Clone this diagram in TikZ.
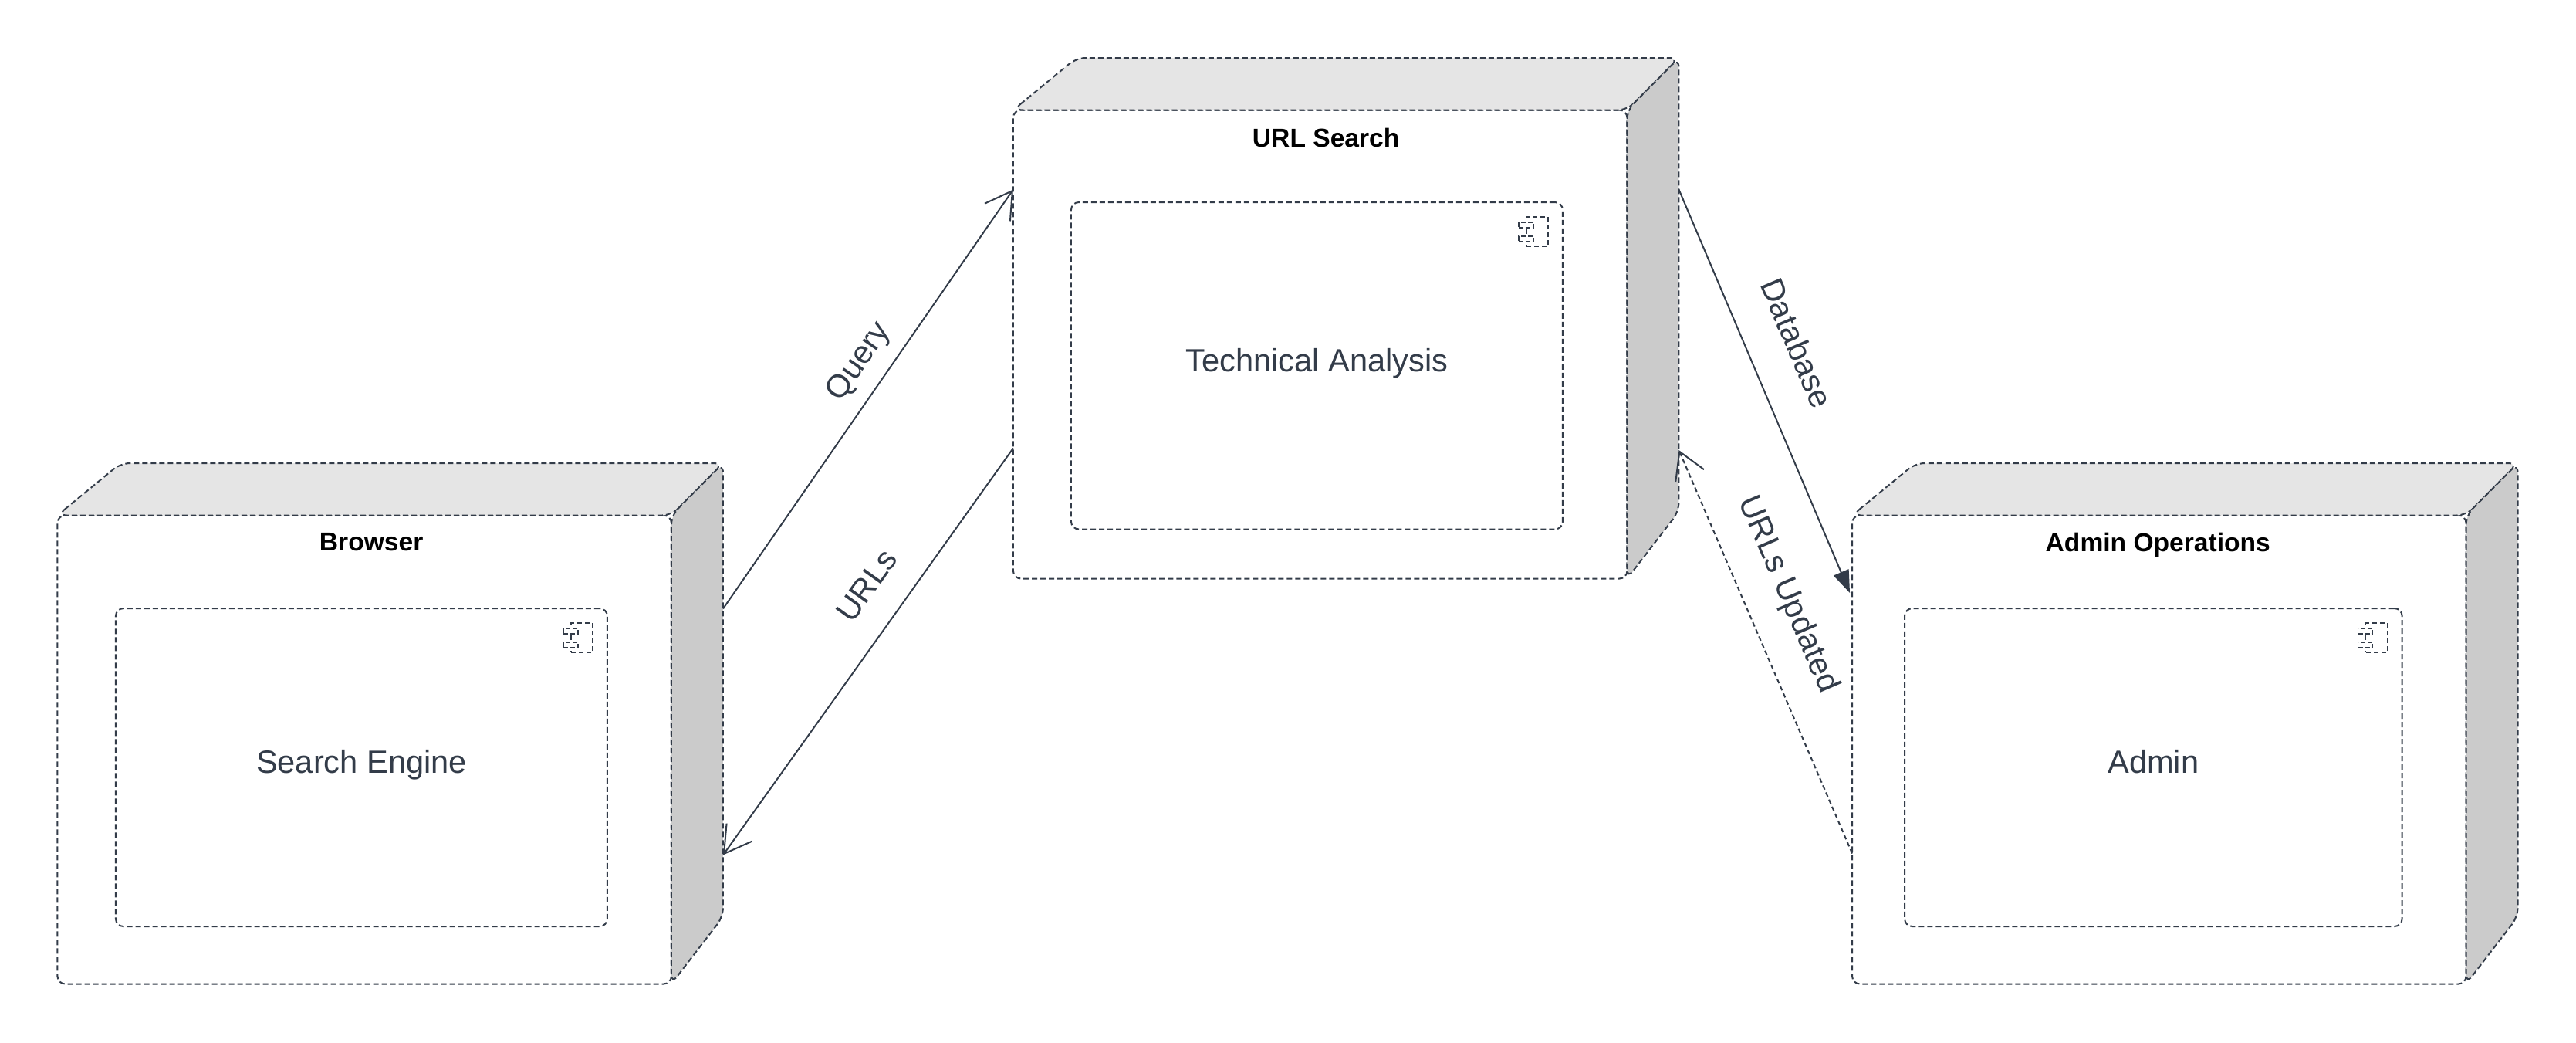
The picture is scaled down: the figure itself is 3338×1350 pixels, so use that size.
\documentclass[tikz,border=0pt]{standalone}
\usepackage{xcolor}
\usepackage{fontspec}
\setmainfont{Liberation Sans}
\usetikzlibrary{arrows.meta,positioning}
\definecolor{inkc}{HTML}{333C49}
\definecolor{topc}{HTML}{E5E5E5}
\definecolor{sidec}{HTML}{CBCBCB}

\begin{document}
\begin{tikzpicture}[
  x=1pt, y=-1pt,
  edge/.style={draw=inkc, line width=2pt, dash pattern=on 7pt off 4pt},
  devicebox/.style={edge, rounded corners=10pt, fill=white, inner sep=0pt, outer sep=0pt, minimum width=795.5pt, minimum height=607pt},
  topface/.style={edge, rounded corners=12pt, fill=topc},
  sideface/.style={edge, rounded corners=12pt, fill=sidec},
  compbox/.style={edge, rounded corners=10pt, inner sep=0pt, outer sep=0pt, align=center, text=inkc, font=\fontsize{41.6}{50}\selectfont, text height=32pt, text depth=17pt},
  titletext/.style={inner sep=0pt, font=\fontsize{33.6}{40}\selectfont\bfseries, text=black},
  iconmain/.style={draw=inkc, line width=1.6pt, dash pattern=on 6pt off 4pt, inner sep=0pt, outer sep=0pt, minimum width=28pt, minimum height=38pt},
  iconpin/.style={draw=inkc, fill=white, line width=1.6pt, dash pattern=on 6pt off 3pt, inner sep=0pt, outer sep=0pt, minimum width=19pt, minimum height=7pt},
  line/.style={draw=inkc, line width=2pt, -{Straight Barb[length=34pt, width=40pt, line width=2pt]}},
  filledline/.style={draw=inkc, line width=2pt, -{Triangle[length=29pt, width=21pt, fill=inkc]}},
  dashline/.style={line, dash pattern=on 6pt off 4pt},
  edgelabel/.style={text=inkc, font=\fontsize{41.6}{50}\selectfont, sloped, inner sep=0pt}
]
\useasboundingbox (0,0) rectangle (3338,1350);

% devices
\node[devicebox] (browser) at (472.2,971) {};
\node[devicebox] (urlsearch) at (1710.7,446) {};
\node[devicebox] (adminops) at (2797.8,971) {};

\draw[topface] (browser.north west) -- ++(82,-67.5) -- ([shift={(67,-67.5)}]browser.north east) -- (browser.north east) -- cycle;
\draw[sideface] (browser.north east) -- ++(67,-67.5) -- ([shift={(67,-87)}]browser.south east) -- (browser.south east) -- cycle;
\draw[topface] (urlsearch.north west) -- ++(82,-67.5) -- ([shift={(67,-67.5)}]urlsearch.north east) -- (urlsearch.north east) -- cycle;
\draw[sideface] (urlsearch.north east) -- ++(67,-67.5) -- ([shift={(67,-87)}]urlsearch.south east) -- (urlsearch.south east) -- cycle;
\draw[topface] (adminops.north west) -- ++(82,-67.5) -- ([shift={(67,-67.5)}]adminops.north east) -- (adminops.north east) -- cycle;
\draw[sideface] (adminops.north east) -- ++(67,-67.5) -- ([shift={(67,-87)}]adminops.south east) -- (adminops.south east) -- cycle;

\node[titletext, below=23pt of browser.north, xshift=9pt] (browsertitle) {Browser};
\node[titletext, below=23pt of urlsearch.north, xshift=7.5pt] (urlsearchtitle) {URL Search};
\node[titletext, below=22pt of adminops.north, xshift=-1.5pt] (adminopstitle) {Admin Operations};

% components
\node[compbox, minimum width=637pt, minimum height=412pt, below right=120.5pt and 75.5pt of browser.north west] (engine) {Search Engine};
\node[compbox, minimum width=637pt, minimum height=423.5pt, below right=119.5pt and 75pt of urlsearch.north west] (analysis) {Technical Analysis};
\node[compbox, minimum width=644.6pt, minimum height=412pt, below right=120.5pt and 68pt of adminops.north west] (admin) {Admin};

% component icons
\node[iconmain, below left=19pt and 19pt of engine.north east] (engineicon) {};
\node[iconpin, below left=26pt and 38pt of engine.north east] (enginepina) {};
\node[iconpin, below=11pt of enginepina] (enginepinb) {};
\node[iconmain, below left=19pt and 19pt of analysis.north east] (analysisicon) {};
\node[iconpin, below left=26pt and 38pt of analysis.north east] (analysispina) {};
\node[iconpin, below=11pt of analysispina] (analysispinb) {};
\node[iconmain, below left=19pt and 19pt of admin.north east] (adminicon) {};
\node[iconpin, below left=26pt and 38pt of admin.north east] (adminpina) {};
\node[iconpin, below=11pt of adminpina] (adminpinb) {};

% connectors
\draw[line] ([shift={(67,121)}]browser.north east) -- node[edgelabel, pos=0.55, above=17pt] (querylabel) {Query} ([yshift=-103pt]urlsearch.north west);
\draw[line] ([shift={(0,438)}]urlsearch.north west) -- node[edgelabel, pos=0.394, above=36pt] (urlslabel) {URLs} ([shift={(67,440)}]browser.north east);
\draw[filledline] ([shift={(67,103)}]urlsearch.north east) -- node[edgelabel, pos=0.428, above=47pt] (dblabel) {Database} ([shift={(-3,100.5)}]adminops.north west);
\draw[line, dashline] ([shift={(0,438)}]adminops.north west) -- node[edgelabel, pos=0.6, above=35pt] (updatedlabel) {URLs Updated} ([shift={(67,440.5)}]urlsearch.north east);
\end{tikzpicture}
\end{document}
